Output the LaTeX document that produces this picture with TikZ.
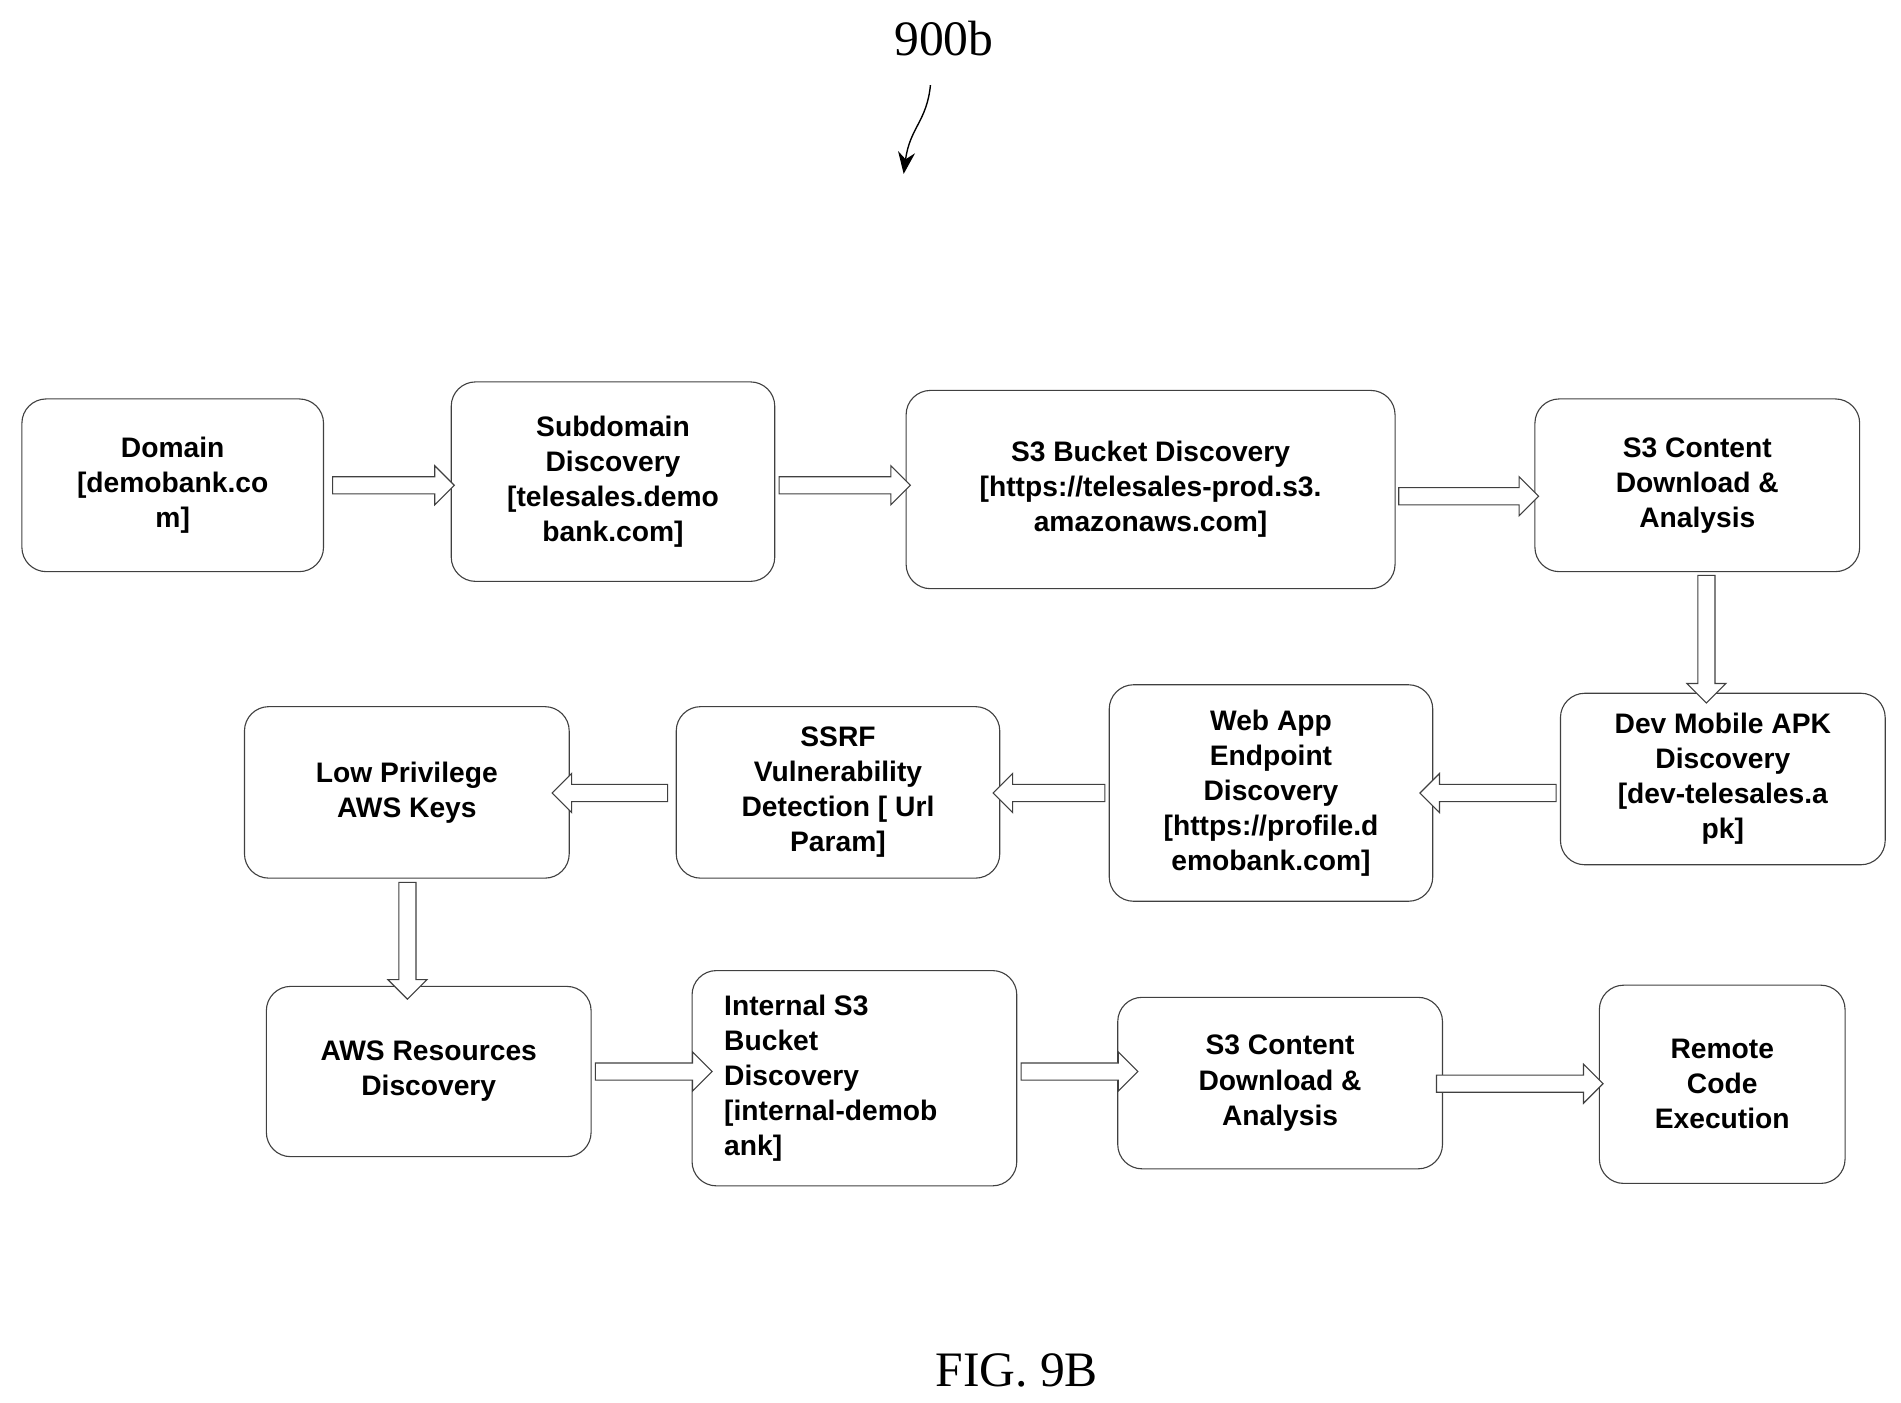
\documentclass[tikz,border=0pt]{standalone}
\usepackage{fontspec}
\setmainfont{Liberation Serif}
\newfontfamily\boxfont{Liberation Sans}
\usetikzlibrary{shapes.arrows,arrows.meta}
\begin{document}
\begin{tikzpicture}[x=0.05cm,y=-0.05cm,
 box/.style={draw=black!75,line width=1.3pt,rounded corners=1cm,align=center,inner sep=0pt,
   font=\boxfont\bfseries\fontsize{33}{41}\selectfont},
 ar/.style={single arrow,draw=black!75,line width=1.3pt,fill=white,inner xsep=0pt,inner ysep=0.33cm,
   text height=0pt,text depth=0pt,single arrow head extend=0.45cm,single arrow head indent=0pt,
   minimum width=1.6cm}]
\useasboundingbox (0,0) rectangle (1563,1153);
\newcommand\bx[6]{\node[box,minimum width={(#4-#2)*0.05cm},minimum height={(#5-#3)*0.05cm}] (#1) at ({(#2+#4)/2},{(#3+#5)/2}) {#6};}
\bx{n1}{18}{328}{266}{470}{Domain\\\relax[demobank.co\\m]}
\bx{n2}{371}{314}{637}{478}{Subdomain\\Discovery\\\relax[telesales.demo\\bank.com]}
\bx{n3}{745}{321}{1147}{484}{S3 Bucket Discovery\\\relax[https://telesales-prod.s3.\\amazonaws.com]}
\bx{n4}{1262}{328}{1529}{470}{S3 Content\\Download \&\\Analysis}
\bx{n5}{1283}{570}{1550}{711}{Dev Mobile APK\\Discovery\\\relax[dev-telesales.a\\pk]}
\bx{n6}{912}{563}{1178}{741}{Web App\\Endpoint\\Discovery\\\relax[https://profile.d\\emobank.com]}
\bx{n7}{556}{581}{822}{722}{SSRF\\Vulnerability\\Detection [ Url\\Param]}
\bx{n8}{201}{581}{468}{722}{Low Privilege\\AWS Keys}
\bx{n9}{219}{811}{486}{951}{AWS Resources\\Discovery}
\node[box,minimum width={267*0.05cm},minimum height={177*0.05cm}] (n10) at (702.5,886.5) {};
\node[box,draw=none,align=left,anchor=west] at (595,886.5) {Internal S3\\Bucket\\Discovery\\\relax[internal-demob\\ank]};
\bx{n11}{919}{820}{1186}{961}{S3 Content\\Download \&\\Analysis}
\bx{n12}{1315}{810}{1517}{973}{Remote\\Code\\Execution}
\node[ar,minimum height=5cm] (a1) at (320,399) {};
\node[ar,minimum height=5.4cm] (a2) at (691,399) {};
\node[ar,minimum height=5.75cm] (a3) at (1204,408) {};
\node[ar,minimum height=5.25cm,rotate=-90] (a4) at (1403,522) {};
\node[ar,minimum height=5.6cm,rotate=180] (a5) at (1227,652) {};
\node[ar,minimum height=4.6cm,rotate=180] (a6) at (866,652) {};
\node[ar,minimum height=4.75cm,rotate=180] (a7) at (505,652) {};
\node[ar,minimum height=4.8cm,rotate=-90] (a8) at (335,770) {};
\node[ar,minimum height=4.8cm] (a9) at (534,881) {};
\node[ar,minimum height=4.8cm] (a10) at (884,881) {};
\node[ar,minimum height=6.85cm] (a11) at (1246,891) {};
\node[font=\fontsize{58}{60}\selectfont] (t) at (776,32) {900b};
\coordinate (s) at (765,70);
\coordinate (e) at (743,143);
\draw[line width=1.6pt,-{Stealth[length=0.9cm,width=0.7cm]}] (s) .. controls (762,100) and (748,105) .. (e);
\node[font=\fontsize{58}{60}\selectfont] (f) at (836,1127) {FIG. 9B};
\end{tikzpicture}
\end{document}
